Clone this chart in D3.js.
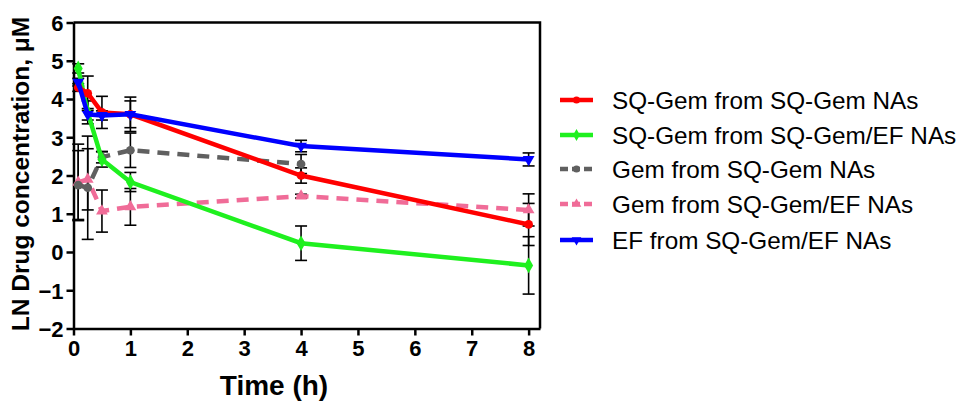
<!DOCTYPE html>
<html lang="en">
<head>
<meta charset="utf-8">
<title>LN Drug concentration</title>
<style type="text/css">
  body { margin: 0; background: #fff; }
  svg text { font-family: "Liberation Sans", Arial, sans-serif; }
</style>
</head>
<body>
<script src="https://cdn.jsdelivr.net/npm/d3@7"></script>
<script>

    var w = 964;
    var h = 405;

    // time points (h)
    var times = [0.083, 0.25, 0.5, 1, 4, 8];

    var seriesNames = ["SQ-Gem from SQ-Gem NAs", "SQ-Gem from SQ-Gem/EF NAs",
        "Gem from SQ-Gem NAs", "Gem from SQ-Gem/EF NAs", "EF from SQ-Gem/EF NAs"];

    // means (LN µM), null = no point
    var sqGemA = [4.3, 4.15, 3.65, 3.6, 2.0, 0.72];
    var sqGemB = [4.8, 3.65, 2.42, 1.83, 0.23, -0.35];
    var gemA = [1.75, 1.68, 2.48, 2.66, 2.3, null];
    var gemB = [1.82, 1.9, 1.07, 1.18, 1.46, 1.1];
    var efB = [4.44, 3.6, 3.57, 3.6, 2.77, 2.42];

    // error (+/-)
    var sqGemAErr = [0.1, 0.45, 0.42, 0.45, 0.2, 0.55];
    var sqGemBErr = [0.12, 0.3, 0.2, 0.25, 0.45, 0.75];
    var gemAErr = [0.9, 1.35, 0.15, 0.45, 0.25, null];
    var gemBErr = [1.0, 0.8, 0.55, 0.48, 0.05, 0.42];
    var efBErr = [0.1, 0.15, 0.12, 0.35, 0.15, 0.17];

    var xTicks = [0, 1, 2, 3, 4, 5, 6, 7, 8];
    var yTicks = [-2, -1, 0, 1, 2, 3, 4, 5, 6];

    var colors = ["#ff0000", "#1ff01f", "#606060", "#f06c98", "#0000ff"];
    var dashes = [null, null, "12,8", "12,8", null];
    var shapes = [d3.symbolCircle, d3.symbolDiamond, d3.symbolCircle, d3.symbolTriangle, d3.symbolTriangle];

    var means = [sqGemA, sqGemB, gemA, gemB, efB];
    var errs = [sqGemAErr, sqGemBErr, gemAErr, gemBErr, efBErr];

    var pLeft = 73.5, pRight = 540, pTop = 22.5, pBottom = 328.5;

    var x = d3.scaleLinear().domain([0, 8.2]).range([pLeft, pRight]);
    var y = d3.scaleLinear().domain([-2, 6]).range([pBottom, pTop]);

    var svg = d3.select("body")
            .append("svg")
            .attr("width", w)
            .attr("height", h);

    //frame top and right
    svg.append("path")
        .attr("d", "M" + pLeft + "," + pTop + "H" + pRight + "V" + pBottom)
        .attr("fill", "none")
        .attr("stroke", "#000")
        .attr("stroke-width", 2.5);

    var xAxis = svg.append("g")
        .attr("transform", "translate(0," + pBottom + ")")
        .call(d3.axisBottom(x).tickValues(xTicks).tickSize(7).tickSizeOuter(0).tickPadding(5));

    var yAxis = svg.append("g")
        .attr("transform", "translate(" + pLeft + ",0)")
        .call(d3.axisLeft(y).tickValues(yTicks).tickSize(7).tickSizeOuter(0).tickPadding(3));

    [xAxis, yAxis].forEach(function(a){
        a.selectAll("path, line").attr("stroke", "#000").attr("stroke-width", 2.5);
        a.selectAll("text")
            .attr("fill", "#000")
            .style("font-size", "22px")
            .style("font-weight", "bold");
    });
    yAxis.selectAll("text").attr("dy", "0.36em");

    //axis titles
    svg.append("text")
        .attr("x", 274)
        .attr("y", 395)
        .attr("text-anchor", "middle")
        .style("font-size", "28px")
        .style("font-weight", "bold")
        .text("Time (h)");

    svg.append("text")
        .attr("transform", "translate(20,174) rotate(-90)")
        .attr("text-anchor", "middle")
        .attr("dy", "0.35em")
        .style("font-size", "24.5px")
        .style("font-weight", "bold")
        .text("LN Drug concentration, \u03bcM");

    //error bars
    var capW = 6;
    means.forEach(function(m, s){
        var e = errs[s];
        for(var i = 0; i < times.length; i++){
            if(m[i] === null) continue;
            var cx = x(times[i]);
            var g = svg.append("g")
                .attr("stroke", "#000")
                .attr("stroke-width", 1.6);
            g.append("line")
                .attr("x1", cx).attr("x2", cx)
                .attr("y1", y(m[i] + e[i])).attr("y2", y(m[i] - e[i]));
            [m[i] + e[i], m[i] - e[i]].forEach(function(v){
                g.append("line")
                    .attr("x1", cx - capW).attr("x2", cx + capW)
                    .attr("y1", y(v)).attr("y2", y(v));
            });
        }
    });

    //lines and markers
    var line = d3.line()
        .defined(function(d){ return d[1] !== null; })
        .x(function(d){ return x(d[0]); })
        .y(function(d){ return y(d[1]); });

    var drawOrder = [3, 2, 1, 0, 4];
    drawOrder.forEach(function(s){
        var pts = times.map(function(t, i){ return [t, means[s][i]]; });
        svg.append("path")
            .datum(pts)
            .attr("d", line)
            .attr("fill", "none")
            .attr("stroke", colors[s])
            .attr("stroke-width", 4.5)
            .attr("stroke-dasharray", dashes[s]);

        svg.selectAll(".m" + s)
            .data(pts.filter(function(d){ return d[1] !== null; }))
            .enter()
            .append("path")
            .attr("class", "m" + s)
            .attr("d", d3.symbol().type(shapes[s]).size(s == 1 ? 70 : 60))
            .attr("transform", function(d){
                return "translate(" + x(d[0]) + "," + y(d[1]) + ")" + (s == 4 ? " rotate(180)" : "");
            })
            .attr("fill", colors[s]);
    });

    //legend
    var legY = [100, 135, 169, 204, 240];
    seriesNames.forEach(function(name, s){
        var ly = legY[s];
        svg.append("line")
            .attr("x1", 560).attr("x2", 593)
            .attr("y1", ly).attr("y2", ly)
            .attr("stroke", colors[s])
            .attr("stroke-width", 4.5)
            .attr("stroke-dasharray", dashes[s] ? "8,4" : null);
        svg.append("path")
            .attr("d", d3.symbol().type(shapes[s]).size(40))
            .attr("transform", "translate(576.5," + ly + ")" + (s == 4 ? " rotate(180)" : ""))
            .attr("fill", colors[s]);
        svg.append("text")
            .attr("x", 612)
            .attr("y", ly)
            .attr("dy", "0.36em")
            .style("font-size", "24.3px")
            .text(name);
    });

</script>
</body>
</html>
